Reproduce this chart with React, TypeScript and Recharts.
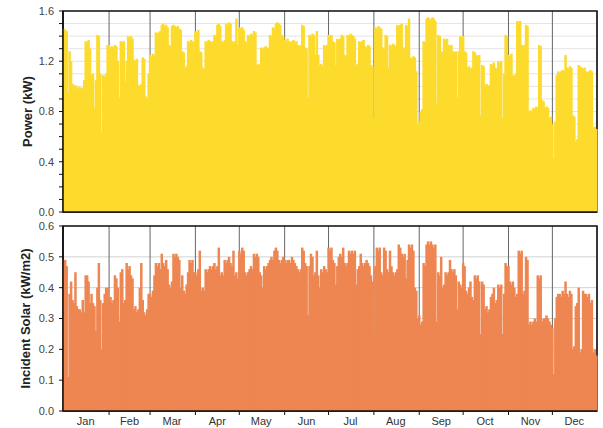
import { BarChart, Bar, XAxis, YAxis, CartesianGrid, ReferenceArea } from 'recharts';

// daily values, one array per month
const powerJan = [1.46, 1.45, 1.44, 0.95, 1.28, 1.2, 1.02, 1.0, 1.01, 0.98, 1.0, 0.99, 0.99, 0.98, 1.05, 1.36, 1.35, 1.37, 1.3, 1.09, 1.1, 0.83, 1.05, 1.41, 1.4, 1.1, 0.64, 1.09, 1.08, 1.1, 1.33];
const powerFeb = [1.33, 1.31, 1.32, 1.31, 1.33, 1.32, 1.2, 0.91, 1.36, 1.35, 1.36, 1.04, 1.2, 1.4, 1.39, 1.4, 1.38, 1.21, 1.2, 1.22, 1.01, 1.0, 1.02, 1.23, 1.22, 0.92, 0.9, 1.1];
const powerMar = [1.25, 1.24, 1.26, 1.25, 1.43, 1.42, 1.43, 1.44, 1.49, 1.5, 1.48, 1.49, 1.47, 1.33, 1.32, 1.48, 1.49, 1.48, 1.47, 1.48, 1.46, 1.45, 1.28, 1.27, 1.15, 1.16, 1.36, 1.35, 1.37, 1.36, 1.35];
const powerApr = [1.44, 1.43, 1.45, 1.28, 1.27, 1.15, 1.14, 1.36, 1.35, 1.37, 1.36, 1.35, 1.36, 1.41, 1.4, 1.49, 1.5, 1.48, 1.36, 1.35, 1.37, 1.5, 1.49, 1.51, 1.5, 1.36, 1.35, 1.36, 1.54, 1.33];
const powerMay = [1.47, 1.46, 1.47, 1.45, 1.36, 1.35, 1.41, 1.4, 1.42, 1.41, 1.44, 1.43, 1.17, 1.18, 1.17, 1.31, 1.3, 1.31, 1.32, 1.3, 1.31, 1.41, 1.4, 1.47, 1.46, 1.5, 1.51, 1.5, 1.49, 1.41, 1.4];
const powerJun = [1.37, 1.36, 1.38, 1.36, 1.35, 1.36, 1.37, 1.35, 1.36, 1.33, 1.32, 1.33, 1.49, 1.48, 1.31, 1.3, 0.91, 1.41, 1.4, 1.42, 1.41, 1.25, 1.44, 1.25, 1.17, 1.18, 1.16, 1.33, 1.32, 1.33];
const powerJul = [1.41, 1.4, 1.41, 1.36, 1.35, 1.17, 1.38, 1.37, 1.38, 1.41, 1.4, 1.25, 1.24, 1.41, 1.4, 1.42, 1.41, 1.4, 1.38, 1.17, 1.18, 1.36, 1.35, 1.36, 1.37, 1.32, 1.31, 1.33, 1.32, 1.17, 1.16];
const powerAug = [0.75, 1.47, 1.46, 1.48, 1.47, 1.46, 1.31, 1.3, 1.41, 1.4, 1.15, 1.33, 1.32, 1.34, 1.33, 1.32, 1.49, 1.48, 1.49, 1.5, 1.31, 1.3, 1.49, 1.48, 1.54, 1.23, 1.22, 1.24, 1.23, 1.12, 0.7];
const powerSep = [0.72, 0.8, 0.82, 1.36, 1.35, 1.54, 1.55, 1.54, 1.53, 1.55, 1.54, 1.52, 0.86, 1.41, 1.4, 1.28, 1.27, 1.38, 1.37, 1.38, 1.33, 1.32, 1.33, 1.28, 1.27, 1.28, 0.91, 1.28, 1.4, 1.39];
const powerOct = [1.4, 1.28, 1.27, 1.15, 1.16, 1.14, 1.15, 1.28, 1.27, 1.25, 1.24, 1.25, 0.77, 1.17, 1.16, 1.01, 1.02, 1.0, 1.01, 1.18, 1.17, 1.19, 1.15, 1.14, 1.2, 1.19, 1.2, 0.75, 1.1, 1.41, 1.4];
const powerNov = [1.25, 1.24, 1.26, 1.09, 1.08, 1.1, 1.52, 1.51, 1.52, 1.33, 1.32, 1.33, 1.49, 1.48, 0.8, 0.81, 0.8, 0.83, 0.82, 0.84, 0.83, 1.33, 1.32, 0.89, 0.88, 0.83, 0.84, 0.83, 0.75, 0.76];
const powerDec = [0.7, 0.43, 0.72, 1.09, 1.12, 1.11, 1.12, 1.13, 1.12, 1.25, 1.15, 1.14, 1.16, 1.15, 0.77, 0.76, 0.56, 0.58, 1.17, 1.16, 1.15, 1.14, 1.15, 1.12, 1.11, 1.12, 1.13, 1.12, 0.67, 0.68, 0.66];

const solarJan = [0.49, 0.49, 0.47, 0.11, 0.38, 0.42, 0.36, 0.35, 0.45, 0.34, 0.33, 0.33, 0.32, 0.36, 0.32, 0.44, 0.44, 0.42, 0.35, 0.38, 0.35, 0.34, 0.26, 0.4, 0.48, 0.36, 0.2, 0.35, 0.38, 0.4, 0.4];
const solarFeb = [0.36, 0.37, 0.35, 0.36, 0.44, 0.43, 0.4, 0.29, 0.45, 0.46, 0.35, 0.36, 0.48, 0.46, 0.47, 0.44, 0.43, 0.33, 0.34, 0.32, 0.33, 0.4, 0.48, 0.36, 0.32, 0.31, 0.33, 0.38];
const solarMar = [0.38, 0.37, 0.39, 0.44, 0.48, 0.47, 0.48, 0.46, 0.51, 0.48, 0.47, 0.49, 0.46, 0.41, 0.4, 0.42, 0.51, 0.5, 0.51, 0.5, 0.49, 0.4, 0.44, 0.39, 0.38, 0.41, 0.45, 0.49, 0.48, 0.49, 0.45];
const solarApr = [0.45, 0.44, 0.46, 0.52, 0.39, 0.4, 0.39, 0.46, 0.45, 0.46, 0.47, 0.46, 0.47, 0.48, 0.46, 0.47, 0.53, 0.44, 0.45, 0.44, 0.49, 0.48, 0.49, 0.5, 0.48, 0.47, 0.52, 0.44, 0.45, 0.43];
const solarMay = [0.52, 0.51, 0.53, 0.52, 0.45, 0.44, 0.45, 0.46, 0.47, 0.46, 0.51, 0.5, 0.51, 0.5, 0.45, 0.44, 0.4, 0.47, 0.46, 0.47, 0.48, 0.49, 0.5, 0.49, 0.52, 0.53, 0.52, 0.49, 0.48, 0.49, 0.5];
const solarJun = [0.49, 0.48, 0.49, 0.49, 0.48, 0.5, 0.49, 0.48, 0.47, 0.46, 0.45, 0.46, 0.53, 0.52, 0.48, 0.47, 0.31, 0.47, 0.51, 0.5, 0.44, 0.45, 0.52, 0.44, 0.4, 0.46, 0.45, 0.47, 0.46, 0.45];
const solarJul = [0.53, 0.52, 0.53, 0.49, 0.48, 0.41, 0.47, 0.5, 0.51, 0.5, 0.53, 0.48, 0.47, 0.48, 0.52, 0.51, 0.52, 0.51, 0.52, 0.41, 0.46, 0.47, 0.51, 0.48, 0.47, 0.48, 0.49, 0.48, 0.47, 0.44, 0.42];
const solarAug = [0.25, 0.47, 0.53, 0.52, 0.53, 0.45, 0.44, 0.53, 0.52, 0.46, 0.45, 0.52, 0.47, 0.45, 0.44, 0.45, 0.46, 0.54, 0.53, 0.51, 0.5, 0.51, 0.43, 0.49, 0.54, 0.53, 0.54, 0.52, 0.4, 0.39, 0.3];
const solarSep = [0.31, 0.28, 0.29, 0.48, 0.47, 0.54, 0.55, 0.54, 0.55, 0.54, 0.53, 0.54, 0.29, 0.45, 0.44, 0.5, 0.4, 0.41, 0.45, 0.44, 0.45, 0.49, 0.46, 0.45, 0.46, 0.44, 0.33, 0.42, 0.41, 0.4];
const solarOct = [0.48, 0.47, 0.39, 0.38, 0.4, 0.42, 0.37, 0.36, 0.44, 0.43, 0.44, 0.42, 0.25, 0.42, 0.41, 0.33, 0.34, 0.32, 0.33, 0.37, 0.38, 0.4, 0.35, 0.36, 0.41, 0.4, 0.41, 0.25, 0.38, 0.48, 0.47];
const solarNov = [0.47, 0.42, 0.41, 0.42, 0.4, 0.37, 0.38, 0.52, 0.51, 0.52, 0.38, 0.39, 0.5, 0.49, 0.28, 0.29, 0.28, 0.29, 0.3, 0.29, 0.44, 0.43, 0.44, 0.29, 0.3, 0.3, 0.31, 0.3, 0.29, 0.28];
const solarDec = [0.27, 0.12, 0.3, 0.37, 0.38, 0.38, 0.37, 0.39, 0.38, 0.42, 0.38, 0.37, 0.39, 0.38, 0.2, 0.21, 0.34, 0.35, 0.4, 0.19, 0.2, 0.39, 0.38, 0.38, 0.37, 0.38, 0.35, 0.36, 0.19, 0.2, 0.18];

const monthNames = ['Jan', 'Feb', 'Mar', 'Apr', 'May', 'Jun', 'Jul', 'Aug', 'Sep', 'Oct', 'Nov', 'Dec'];
const monthStarts = [31, 59, 90, 120, 151, 181, 212, 243, 273, 304, 334];
const monthMids = [15, 45, 74, 105, 135, 166, 196, 227, 258, 288, 319, 349];
const powerTicks = [0, 0.1, 0.2, 0.3, 0.4, 0.5, 0.6, 0.7, 0.8, 0.9, 1.0, 1.1, 1.2, 1.3, 1.4, 1.5, 1.6];
const solarTicks = [0, 0.1, 0.2, 0.3, 0.4, 0.5, 0.6];

const power = [...powerJan, ...powerFeb, ...powerMar, ...powerApr, ...powerMay, ...powerJun, ...powerJul, ...powerAug, ...powerSep, ...powerOct, ...powerNov, ...powerDec];
const solar = [...solarJan, ...solarFeb, ...solarMar, ...solarApr, ...solarMay, ...solarJun, ...solarJul, ...solarAug, ...solarSep, ...solarOct, ...solarNov, ...solarDec];

const data = power.map((p, i) => ({ day: i, power: p, solar: solar[i] }));
const lastDay = data.length - 1;

const YELLOW = '#FDDB2D';
const ORANGE = '#EE8652';
const tickStyle = { fontSize: 11, fill: '#444' };
const axisStyle = { stroke: '#111', strokeWidth: 1.5 };
const noLabel = () => '';

// Recharts floors the bar width to whole pixels; widen each bar so
// neighbouring days overlap, as in a solid daily histogram
function DayBar(props: any) {
  const { x, y, width, height, fill } = props;
  if (height == null || height <= 0) return <g />;
  return <rect x={x - 0.5} y={y} width={width + 1.5} height={height} fill={fill} stroke="none" />;
}

export default function App() {
  return (
    <div
      style={{
        position: 'absolute',
        left: 0,
        top: 0,
        width: 603,
        height: 428,
        background: '#fff',
        overflow: 'hidden',
        fontFamily: '"Liberation Sans", Arial, sans-serif',
      }}
    >
      <div style={{ position: 'absolute', left: 0, top: 0 }}>
        <BarChart
          width={603}
          height={220}
          data={data}
          margin={{ top: 11, right: 6, bottom: 6, left: 0 }}
          barCategoryGap={0}
          barGap={0}
        >
          <CartesianGrid vertical={false} stroke="#e4e4e4" />
          <CartesianGrid horizontal={false} stroke="#666" />
          <XAxis
            dataKey="day"
            ticks={monthStarts}
            interval={0}
            tick={{ fontSize: 1 }}
            tickFormatter={noLabel}
            tickLine={false}
            height={2}
            axisLine={axisStyle}
          />
          <YAxis
            width={63}
            domain={[0, 1.6]}
            ticks={powerTicks}
            interval={0}
            tickSize={4}
            tickMargin={5}
            tick={tickStyle}
            tickLine={{ stroke: '#111' }}
            axisLine={axisStyle}
            tickFormatter={(v: number) => (Math.round(v * 10) % 4 === 0 ? v.toFixed(1) : '')}
            label={{
              value: 'Power (kW)',
              angle: -90,
              position: 'insideLeft',
              offset: 27,
              style: { textAnchor: 'middle', fontWeight: 'bold', fontSize: 13, fill: '#222' },
            }}
          />
          <Bar dataKey="power" fill={YELLOW} shape={DayBar} isAnimationActive={false} />
          <ReferenceArea x1={0} x2={lastDay} y1={0} y2={1.6} fill="none" stroke="#111" strokeWidth={1.5} />
        </BarChart>
      </div>

      <div style={{ position: 'absolute', left: 0, top: 214 }}>
        <BarChart
          width={603}
          height={214}
          data={data}
          margin={{ top: 12, right: 6, bottom: 0, left: 0 }}
          barCategoryGap={0}
          barGap={0}
        >
          <CartesianGrid vertical={false} stroke="#d2d2d2" />
          <CartesianGrid horizontal={false} stroke="#666" />
          <XAxis
            dataKey="day"
            ticks={monthStarts}
            interval={0}
            tick={{ fontSize: 1 }}
            tickFormatter={noLabel}
            tickSize={4}
            tickLine={{ stroke: '#111' }}
            height={4}
            axisLine={axisStyle}
          />
          <XAxis
            xAxisId="labels"
            dataKey="day"
            ticks={monthMids}
            interval={0}
            axisLine={false}
            tickLine={false}
            tickSize={0}
            tickMargin={2}
            height={13}
            tick={{ fontSize: 11, fill: '#333' }}
            tickFormatter={(v: number) => monthNames[monthMids.indexOf(v)] ?? ''}
          />
          <YAxis
            width={63}
            domain={[0, 0.6]}
            ticks={solarTicks}
            interval={0}
            tickSize={4}
            tickMargin={5}
            tick={tickStyle}
            tickLine={{ stroke: '#111' }}
            axisLine={axisStyle}
            tickFormatter={(v: number) => v.toFixed(1)}
            label={{
              value: 'Incident Solar (kW/m2)',
              angle: -90,
              position: 'insideLeft',
              offset: 25,
              style: { textAnchor: 'middle', fontWeight: 'bold', fontSize: 13, fill: '#222' },
            }}
          />
          <Bar dataKey="solar" fill={ORANGE} shape={DayBar} isAnimationActive={false} />
          <ReferenceArea x1={0} x2={lastDay} y1={0} y2={0.6} fill="none" stroke="#111" strokeWidth={1.5} />
        </BarChart>
      </div>
    </div>
  );
}
